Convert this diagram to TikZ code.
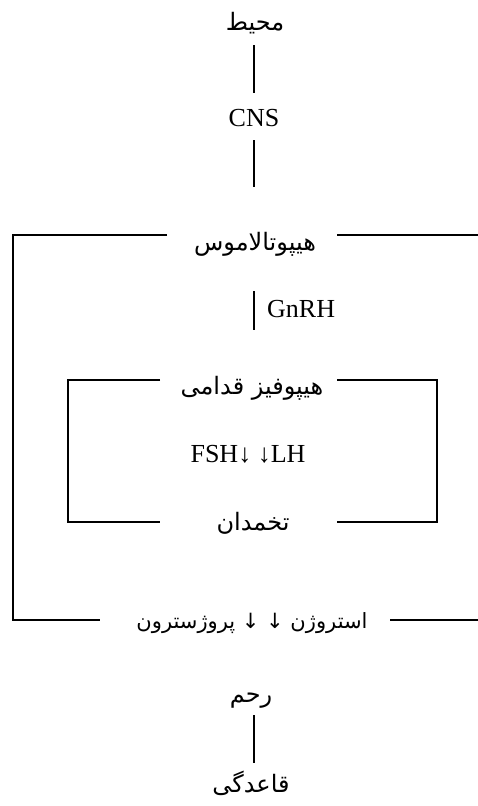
\documentclass[tikz,border=0pt]{standalone}
\usepackage{fontspec}
\setmainfont{Liberation Serif}
\newfontfamily\arabicfont[Script=Arabic]{DejaVu Sans}
\TeXXeTstate=1
\tikzset{
  lbl/.style={anchor=base, inner sep=0pt, font=\fontsize{26}{30}\selectfont},
  fa/.style={anchor=base, inner sep=0pt, font=\arabicfont\fontsize{24}{28}\selectfont},
  ln/.style={line width=1.8pt}
}
\begin{document}
\begin{tikzpicture}[x=1pt,y=-1pt]
\useasboundingbox (0,0) rectangle (478,806);
% nodes
\node[fa] (mohit) at (255,30) {\beginR محیط\endR};
\node[lbl] (cns) at (254,126) {CNS};
\node[fa] (hypo) at (255,250) {\beginR هیپوتالاموس\endR};
\node[lbl, anchor=base west] (gnrh) at (267,317) {GnRH};
\node[fa] (pit) at (252,394) {\beginR هیپوفیز قدامی\endR};
\node[lbl] (fsh) at (248,462) {FSH↓ ↓LH};
\node[fa] (ovary) at (253,530) {\beginR تخمدان\endR};
\node[fa, font=\arabicfont\fontsize{21}{25}\selectfont] (hor) at (252,628) {\beginR استروژن ↓ ↓ پروژسترون\endR};
\node[fa] (uterus) at (251,702) {\beginR رحم\endR};
\node[fa] (mens) at (251,792) {\beginR قاعدگی\endR};
% connector end points
\coordinate (a1) at (254,45);  \coordinate (a2) at (254,93);
\coordinate (b1) at (254,140); \coordinate (b2) at (254,187);
\coordinate (g1) at (254,291); \coordinate (g2) at (254,330);
\coordinate (u1) at (254,715); \coordinate (u2) at (254,763);
% vertical connectors
\draw[ln] (a1) -- (a2);
\draw[ln] (b1) -- (b2);
\draw[ln] (g1) -- (g2);
\draw[ln] (u1) -- (u2);
% outer frame
\draw[ln] (167,235) -- (13,235) -- (13,620) -- (100,620);
\draw[ln] (337,235) -- (479,235);
\draw[ln] (390,620) -- (479,620);
% inner box
\draw[ln] (160,380) -- (68,380) -- (68,522) -- (160,522);
\draw[ln] (337,380) -- (437,380) -- (437,522) -- (337,522);
\end{tikzpicture}
\end{document}
